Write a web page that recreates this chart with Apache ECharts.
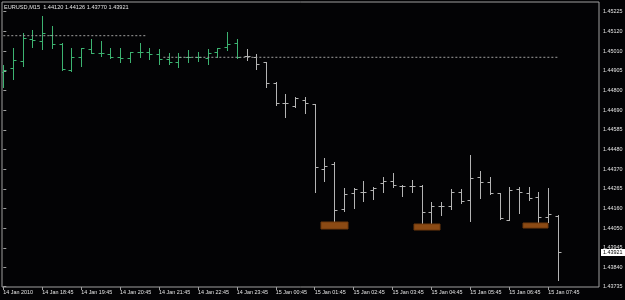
<!DOCTYPE html>
<html><head><meta charset="utf-8">
<script src="https://cdn.jsdelivr.net/npm/echarts@6/dist/echarts.min.js"></script>
<style>html,body{margin:0;padding:0;background:#030305;}#c{width:625px;height:300px;}</style>
</head><body><div id="c"></div>
<script>
const symbolName = 'EURUSD,M15';
const times = [
'2010-01-14 17:45','2010-01-14 18:00','2010-01-14 18:15','2010-01-14 18:30','2010-01-14 18:45','2010-01-14 19:00','2010-01-14 19:15','2010-01-14 19:30','2010-01-14 19:45','2010-01-14 20:00',
'2010-01-14 20:15','2010-01-14 20:30','2010-01-14 20:45','2010-01-14 21:00','2010-01-14 21:15','2010-01-14 21:30','2010-01-14 21:45','2010-01-14 22:00','2010-01-14 22:15','2010-01-14 22:30',
'2010-01-14 22:45','2010-01-14 23:00','2010-01-14 23:15','2010-01-14 23:30','2010-01-14 23:45','2010-01-15 00:00','2010-01-15 00:15','2010-01-15 00:30','2010-01-15 00:45','2010-01-15 01:00',
'2010-01-15 01:15','2010-01-15 01:30','2010-01-15 01:45','2010-01-15 02:00','2010-01-15 02:15','2010-01-15 02:30','2010-01-15 02:45','2010-01-15 03:00','2010-01-15 03:15','2010-01-15 03:30',
'2010-01-15 03:45','2010-01-15 04:00','2010-01-15 04:15','2010-01-15 04:30','2010-01-15 04:45','2010-01-15 05:00','2010-01-15 05:15','2010-01-15 05:30','2010-01-15 05:45','2010-01-15 06:00',
'2010-01-15 06:15','2010-01-15 06:30','2010-01-15 06:45','2010-01-15 07:00','2010-01-15 07:15','2010-01-15 07:30','2010-01-15 07:45','2010-01-15 08:00'];
const opens = [
1.44898,1.44918,1.44958,1.45077,1.45068,1.45099,1.45050,1.44909,1.44981,1.45021,
1.45003,1.44996,1.44981,1.44973,1.45005,1.45005,1.44996,1.44969,1.44954,1.44978,
1.44978,1.44973,1.45005,1.45032,1.45054,1.44987,1.44978,1.44951,1.44837,1.44729,
1.44716,1.44747,1.44724,1.44373,1.44400,1.44156,1.44241,1.44250,1.44259,1.44295,
1.44309,1.44282,1.44282,1.44282,1.44141,1.44172,1.44174,1.44247,1.44205,1.44331,
1.44304,1.44244,1.44096,1.44264,1.44241,1.44223,1.44111,1.44120];
const highs = [
1.44936,1.45027,1.45108,1.45126,1.45202,1.45148,1.45057,1.45027,1.45027,1.45075,
1.45068,1.45027,1.45027,1.45008,1.45057,1.45027,1.45023,1.45003,1.45000,1.45018,
1.45005,1.45021,1.45030,1.45113,1.45077,1.45021,1.44994,1.44951,1.44846,1.44779,
1.44764,1.44761,1.44725,1.44434,1.44409,1.44271,1.44268,1.44308,1.44277,1.44331,
1.44353,1.44286,1.44313,1.44286,1.44196,1.44196,1.44263,1.44263,1.44449,1.44362,
1.44328,1.44244,1.44274,1.44274,1.44274,1.44247,1.44268,1.44126];
const lows = [
1.44815,1.44860,1.44932,1.45032,1.45023,1.45027,1.44909,1.44905,1.44932,1.45000,
1.44987,1.44973,1.44954,1.44951,1.44978,1.44967,1.44942,1.44942,1.44924,1.44951,
1.44958,1.44940,1.44978,1.45018,1.44976,1.44963,1.44913,1.44815,1.44720,1.44653,
1.44707,1.44675,1.44250,1.44308,1.44084,1.44145,1.44163,1.44199,1.44209,1.44247,
1.44274,1.44228,1.44250,1.44055,1.44051,1.44124,1.44154,1.44190,1.44093,1.44214,
1.44237,1.44102,1.44096,1.44133,1.44205,1.44079,1.44087,1.43770];
const closes = [
1.44909,1.44963,1.45084,1.45074,1.45108,1.45050,1.44915,1.44981,1.45027,1.45003,
1.45003,1.44981,1.44973,1.45005,1.45005,1.44996,1.44969,1.44954,1.44978,1.44978,
1.44978,1.45000,1.45027,1.45050,1.44978,1.44987,1.44940,1.44837,1.44729,1.44729,
1.44756,1.44729,1.44382,1.44391,1.44151,1.44237,1.44263,1.44250,1.44271,1.44309,
1.44286,1.44282,1.44282,1.44141,1.44172,1.44174,1.44247,1.44201,1.44326,1.44304,
1.44241,1.44106,1.44259,1.44247,1.44214,1.44111,1.44127,1.43921];
const yTickLabels = ['1.43735','1.43840','1.43945','1.44050','1.44160','1.44265','1.44370','1.44480','1.44585','1.44690','1.44800','1.44905','1.45010','1.45120','1.45225'];
const xTickLabels = ['14 Jan 2010','14 Jan 18:45','14 Jan 19:45','14 Jan 20:45','14 Jan 21:45','14 Jan 22:45','14 Jan 23:45','15 Jan 00:45','15 Jan 01:45','15 Jan 02:45','15 Jan 03:45','15 Jan 04:45','15 Jan 05:45','15 Jan 06:45','15 Jan 07:45'];
// horizontal dashed levels (bar-index span, price)
const levelPrices = [1.45095, 1.44978];
const levelStarts = [0, 16.45];
const levelEnds = [14.8, 56.95];
// orange boxes (bar-index span, price span)
const boxStarts = [32.65, 42.24, 53.38];
const boxEnds = [35.39, 44.88, 55.95];
const boxTops = [1.44087, 1.44073, 1.44082];
const boxBottoms = [1.44048, 1.44039, 1.44053];

const FONT = 'Liberation Sans';
const TXT = '#e4e4e4';
const FRAME = '#a0a0a0';
const GREEN = '#3cb371';
const GRAY = '#b4b4b4';
const n = times.length;
const xTickIdx = times.map((t, i) => t.endsWith(':45') ? i : -1).filter(i => i >= 0);
const yTickVals = yTickLabels.map(Number);
const firstDay = times[0].slice(0, 10);

function renderOHLC(params, api) {
  const i = api.value(0);
  const po = api.coord([i, api.value(1)]);
  const ph = api.coord([i, api.value(2)]);
  const pl = api.coord([i, api.value(3)]);
  const pc = api.coord([i, api.value(4)]);
  const x = Math.round(ph[0]) + 0.5;
  const yo = Math.round(po[1]) + 0.5, yc = Math.round(pc[1]) + 0.5;
  const color = times[i].slice(0, 10) === firstDay ? GREEN : GRAY;
  const style = { stroke: color, lineWidth: 1 };
  return { type: 'group', children: [
    { type: 'line', shape: { x1: x, y1: Math.round(ph[1]), x2: x, y2: Math.round(pl[1]) + 1 }, style },
    { type: 'line', shape: { x1: x - 3, y1: yo, x2: x, y2: yo }, style },
    { type: 'line', shape: { x1: x, y1: yc, x2: x + 3, y2: yc }, style }
  ]};
}
function renderBox(params, api) {
  const a = api.coord([api.value(0), api.value(2)]);
  const b = api.coord([api.value(1), api.value(3)]);
  return { type: 'rect', shape: { x: Math.round(a[0]), y: Math.round(a[1]), width: Math.round(b[0] - a[0]), height: Math.round(b[1] - a[1]) },
    style: { fill: '#8b4a14', stroke: '#6e380c', lineWidth: 1 } };
}
function renderPriceTag(params, api) {
  const p = api.coord([api.value(0), api.value(1)]);
  const x = params.coordSys.x + params.coordSys.width;
  const y = Math.round(p[1]);
  return { type: 'group', children: [
    { type: 'rect', shape: { x: x + 2, y: y - 3, width: 24, height: 7 }, style: { fill: '#ffffff' } },
    { type: 'text', x: x + 4, y: y + 0.5, style: { text: api.value(1).toFixed(5), fill: '#000000',
      font: '5.4px "' + FONT + '"', verticalAlign: 'middle', align: 'left' } }
  ]};
}

const last = n - 1;
const titleText = symbolName + '  ' + [opens[last], highs[last], lows[last], closes[last]].map(v => v.toFixed(5)).join(' ');

const series = [
  { type: 'custom', renderItem: renderOHLC, clip: true,
    data: times.map((t, i) => [i, opens[i], highs[i], lows[i], closes[i]]), encode: { x: 0, y: [1, 2, 3, 4] } },
  { type: 'custom', renderItem: renderBox, clip: true,
    data: boxStarts.map((s, k) => [s, boxEnds[k], boxTops[k], boxBottoms[k]]), encode: { x: [0, 1], y: [2, 3] } }
];
levelPrices.forEach((p, k) => series.push({ type: 'line', symbol: 'none', silent: true,
  data: [[levelStarts[k], p], [levelEnds[k], p]], lineStyle: { color: FRAME, width: 1, type: [2, 2] } }));
series.push({ type: 'custom', renderItem: renderPriceTag, clip: false, z: 20, silent: true,
  data: [[last, closes[last]]], encode: { x: 0, y: 1 } });

const chart = echarts.init(document.getElementById('c'));
chart.setOption({
  backgroundColor: '#030305',
  animation: false,
  title: { text: titleText, left: 4, top: 4, padding: 0,
    textStyle: { color: TXT, fontSize: 5.6, fontWeight: 'normal', fontFamily: FONT } },
  grid: { left: 2, right: 26, top: 2, bottom: 13, show: true, borderColor: FRAME, borderWidth: 1,
    backgroundColor: 'transparent', containLabel: false, outerBoundsMode: 'none' },
  xAxis: { type: 'value', min: -0.134, max: 61.22, splitLine: { show: false }, axisLine: { show: false },
    axisTick: { show: true, customValues: xTickIdx, length: 3, lineStyle: { color: FRAME } },
    axisLabel: { customValues: xTickIdx, formatter: v => xTickLabels[xTickIdx.indexOf(Math.round(v))] || '',
      align: 'left', margin: 3, color: TXT, fontSize: 5.4, fontFamily: FONT } },
  yAxis: { type: 'value', position: 'right', min: 1.437334, max: 1.452776, splitLine: { show: false }, axisLine: { show: false },
    axisTick: { show: true, customValues: yTickVals, length: 3, lineStyle: { color: FRAME } },
    axisLabel: { customValues: yTickVals, margin: 4, color: TXT, fontSize: 5.4, fontFamily: FONT,
      formatter: v => { let best = 0; yTickVals.forEach((t, k) => { if (Math.abs(t - v) < Math.abs(yTickVals[best] - v)) best = k; }); return yTickLabels[best]; } } },
  series
});
</script></body></html>
